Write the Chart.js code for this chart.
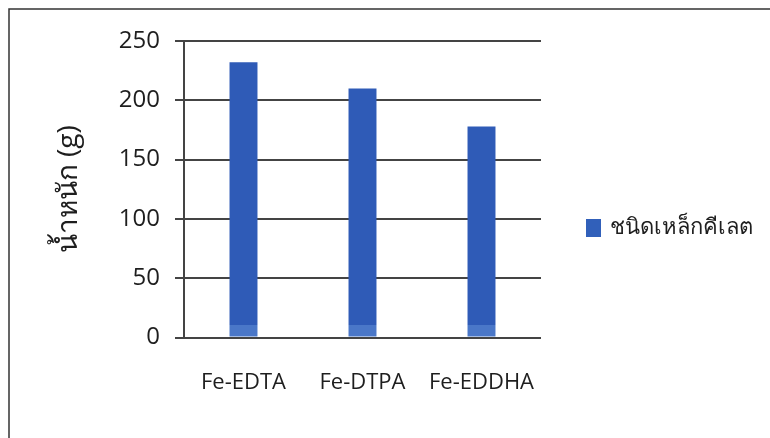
<!DOCTYPE html>
<html lang="th">
<head>
    <meta charset="UTF-8">
    <title>น้ำหนัก (g)</title>
    <script src="https://cdn.jsdelivr.net/npm/chart.js"></script>
    <style>
        body {
            margin: 0;
            padding: 0;
            background: #fff;
        }
        #box {
            width: 770px;
            height: 438px;
        }
    </style>
</head>
<body>
    <div id="box">
        <canvas id="chart"></canvas>
    </div>

    <script>
        // ข้อมูล
        const categories = ['Fe-EDTA', 'Fe-DTPA', 'Fe-EDDHA'];
        const weights = [232, 210, 178];
        const seriesName = 'ชนิดเหล็กคีเลต';
        const yTicks = [0, 50, 100, 150, 200, 250];

        const fontFam = '"Open Sans", "Noto Sans", sans-serif';

        // กรอบรูป (ด้านบนและด้านซ้าย)
        const framePlugin = {
            id: 'frame',
            beforeDraw(chart) {
                const c = chart.ctx;
                c.save();
                c.strokeStyle = '#333';
                c.lineWidth = 1.5;
                c.beginPath();
                c.moveTo(770, 9);
                c.lineTo(9, 9);
                c.lineTo(9, 438);
                c.stroke();
                c.restore();
            }
        };

        // คำอธิบายสัญลักษณ์ทางขวา
        const legendPlugin = {
            id: 'sideLegend',
            afterDraw(chart) {
                const c = chart.ctx;
                const ds = chart.data.datasets[0];
                c.save();
                c.fillStyle = '#3160BA';
                c.fillRect(586, 219, 15, 18);
                c.fillStyle = '#1e1e1e';
                c.font = '22px ' + fontFam;
                c.textBaseline = 'middle';
                c.fillText(ds.label, 610, 228);
                c.restore();
            }
        };

        // สีแท่ง: ส่วนล่างสุดอ่อนกว่าเล็กน้อย
        function barColor(ctx) {
            const chart = ctx.chart;
            const y = chart.scales.y;
            if (!y || !chart.chartArea) return '#2F5BB7';
            const g = chart.ctx.createLinearGradient(0, y.getPixelForValue(0), 0, y.getPixelForValue(250));
            const cut = 11 / 250;
            g.addColorStop(0, '#4A77C8');
            g.addColorStop(cut, '#4A77C8');
            g.addColorStop(cut, '#2F5BB7');
            g.addColorStop(1, '#2F5BB7');
            return g;
        }

        const ctx = document.getElementById('chart').getContext('2d');
        new Chart(ctx, {
            type: 'bar',
            data: {
                labels: categories,
                datasets: [{
                    label: seriesName,
                    data: weights,
                    backgroundColor: barColor,
                    borderWidth: 0,
                    barPercentage: 0.47,
                    categoryPercentage: 0.5
                }]
            },
            options: {
                responsive: true,
                maintainAspectRatio: false,
                animation: false,
                layout: {
                    padding: { top: 41, bottom: 10, left: 52, right: 229 }
                },
                plugins: {
                    tooltip: { enabled: false },
                    legend: { display: false }
                },
                scales: {
                    x: {
                        grid: { display: false, drawTicks: false },
                        border: { display: false },
                        ticks: {
                            color: '#1e1e1e',
                            padding: 32,
                            font: { family: fontFam, size: 22 }
                        }
                    },
                    y: {
                        min: 0,
                        max: 250,
                        afterBuildTicks(axis) {
                            axis.ticks = yTicks.map(v => ({ value: v }));
                        },
                        afterFit(axis) {
                            axis.width = 132;
                        },
                        grid: {
                            color: '#444',
                            lineWidth: 2,
                            tickLength: 9,
                            drawTicks: true
                        },
                        border: { display: true, color: '#444', width: 2 },
                        ticks: {
                            color: '#1e1e1e',
                            padding: 15,
                            font: { family: fontFam, size: 24 }
                        },
                        title: {
                            display: true,
                            text: 'น้ำหนัก (g)',
                            color: '#1e1e1e',
                            padding: { top: 0, bottom: 0 },
                            font: { family: fontFam, size: 28 }
                        }
                    }
                }
            },
            plugins: [framePlugin, legendPlugin]
        });
    </script>
</body>
</html>
